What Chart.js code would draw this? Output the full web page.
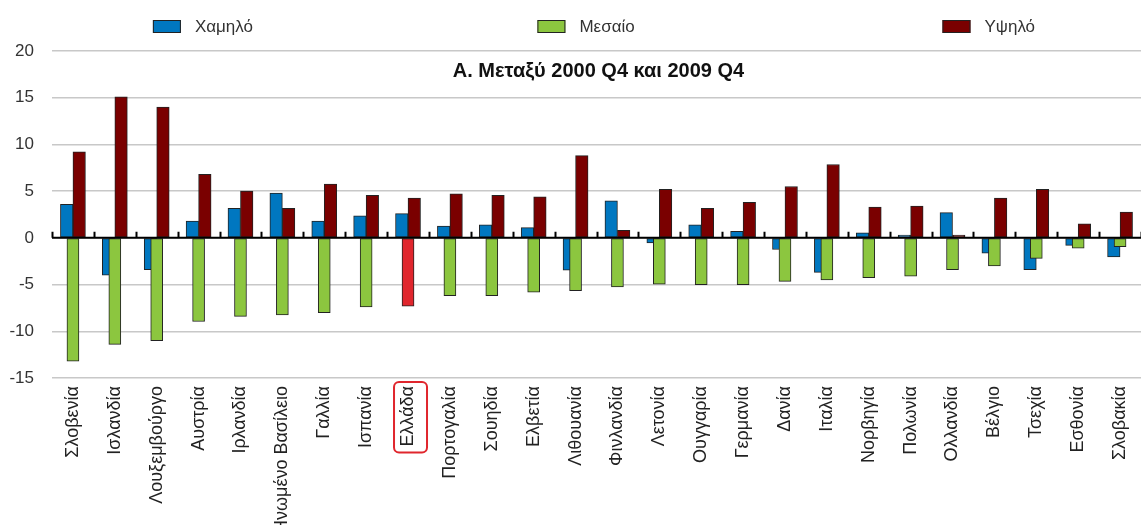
<!DOCTYPE html>
<html>
<head>
<meta charset="utf-8">
<script src="https://cdn.jsdelivr.net/npm/chart.js@4.4.1/dist/chart.umd.min.js"></script>
<style>
  html, body { margin: 0; padding: 0; background: #fff; }
</style>
</head>
<body>
<canvas id="chart" width="1141" height="525"></canvas>
<script>
const countries = ['Σλοβενία', 'Ισλανδία', 'Λουξεμβούργο', 'Αυστρία', 'Ιρλανδία', 'Ηνωμένο Βασίλειο',
  'Γαλλία', 'Ισπανία', 'Ελλάδα', 'Πορτογαλία', 'Σουηδία', 'Ελβετία', 'Λιθουανία', 'Φινλανδία',
  'Λετονία', 'Ουγγαρία', 'Γερμανία', 'Δανία', 'Ιταλία', 'Νορβηγία', 'Πολωνία', 'Ολλανδία',
  'Βέλγιο', 'Τσεχία', 'Εσθονία', 'Σλοβακία'];
const lowValues = [3.6, -4.0, -3.4, 1.8, 3.15, 4.8, 1.8, 2.35, 2.6, 1.25, 1.4, 1.1, -3.45, 3.95,
  -0.55, 1.4, 0.7, -1.25, -3.7, 0.55, 0.3, 2.7, -1.65, -3.4, -0.8, -2.05];
const midValues = [-13.2, -11.4, -11.0, -8.95, -8.4, -8.25, -8.0, -7.4, -7.3, -6.2, -6.2, -5.8, -5.65, -5.25,
  -4.95, -5.0, -5.0, -4.65, -4.5, -4.25, -4.1, -3.4, -3.0, -2.2, -1.1, -0.95];
const highValues = [9.2, 15.1, 14.0, 6.8, 5.0, 3.15, 5.75, 4.55, 4.25, 4.7, 4.55, 4.4, 8.8, 0.8,
  5.2, 3.15, 3.8, 5.5, 7.85, 3.3, 3.4, 0.3, 4.25, 5.2, 1.5, 2.75];
const yTicks = [-15, -10, -5, 0, 5, 10, 15, 20];
const seriesNames = ['Χαμηλό', 'Μεσαίο', 'Υψηλό'];
const chartTitle = 'Α. Μεταξύ 2000 Q4 και 2009 Q4';
const highlighted = 'Ελλάδα';

const FONT = "'Liberation Sans', Arial, sans-serif";
const BLUE = '#0077c0', GREEN = '#8cc63f', DARKRED = '#7a0000', RED = '#e0262d';

// legend drawn by hand, items spread wide like the original
const topLegend = {
  id: 'topLegend',
  afterDraw(chart) {
    const ctx = chart.ctx;
    const spots = [0.134, 0.471, 0.826];
    ctx.save();
    ctx.font = '17px ' + FONT;
    ctx.textBaseline = 'middle';
    chart.data.datasets.forEach((ds, i) => {
      const x = chart.width * spots[i];
      ctx.fillStyle = ds.legendColor;
      ctx.strokeStyle = '#222';
      ctx.lineWidth = 1;
      ctx.fillRect(x, 20, 28, 13);
      ctx.strokeRect(x + 0.5, 20.5, 27, 12);
      ctx.fillStyle = '#333';
      ctx.fillText(ds.label, x + 42, 27);
    });
    ctx.restore();
  }
};

const innerTitle = {
  id: 'innerTitle',
  afterDraw(chart) {
    const {ctx, chartArea} = chart;
    ctx.save();
    ctx.font = "bold 20px 'Liberation Sans Narrow', 'Liberation Sans', Arial, sans-serif";
    ctx.fillStyle = '#111';
    ctx.textAlign = 'center';
    ctx.textBaseline = 'middle';
    ctx.fillText(chartTitle, (chartArea.left + chartArea.right) / 2 + 2, chartArea.top + 20);
    ctx.restore();
  }
};

// black zero line with small ticks between categories
const zeroAxis = {
  id: 'zeroAxis',
  afterDatasetsDraw(chart) {
    const {ctx, chartArea, scales} = chart;
    const y0 = scales.y.getPixelForValue(0);
    const step = (chartArea.right - chartArea.left) / countries.length;
    ctx.save();
    ctx.strokeStyle = '#000';
    ctx.lineWidth = 2;
    ctx.beginPath();
    ctx.moveTo(chartArea.left, y0);
    ctx.lineTo(chartArea.right, y0);
    for (let i = 0; i <= countries.length; i++) {
      const x = Math.round(chartArea.left + i * step) + 0.5;
      ctx.moveTo(x, y0);
      ctx.lineTo(x, y0 - 6);
    }
    ctx.stroke();
    ctx.restore();
  }
};

const highlightBox = {
  id: 'highlightBox',
  afterDraw(chart) {
    const {ctx, chartArea, scales} = chart;
    const idx = countries.indexOf(highlighted);
    const x = scales.x.getPixelForValue(idx);
    ctx.save();
    ctx.font = '18px ' + FONT;
    const w = ctx.measureText(highlighted).width;
    ctx.strokeStyle = RED;
    ctx.lineWidth = 2;
    ctx.beginPath();
    ctx.roundRect(x - 14, chartArea.bottom + 4, 33, w + 10, 5);
    ctx.stroke();
    ctx.restore();
  }
};

new Chart(document.getElementById('chart'), {
  type: 'bar',
  data: {
    labels: countries,
    datasets: [
      {
        label: seriesNames[0], data: lowValues, order: 2,
        backgroundColor: BLUE, legendColor: BLUE, barThickness: 12.5
      },
      {
        label: seriesNames[1], data: midValues, order: 1, grouped: false,
        backgroundColor: countries.map(c => c === highlighted ? RED : GREEN),
        legendColor: GREEN, barThickness: 12
      },
      {
        label: seriesNames[2], data: highValues, order: 3,
        backgroundColor: DARKRED, legendColor: DARKRED, barThickness: 12.5
      }
    ]
  },
  options: {
    responsive: false,
    animation: false,
    devicePixelRatio: 1,
    layout: { padding: { top: 51, right: 0, left: 0, bottom: 0 } },
    datasets: {
      bar: { borderColor: '#222', borderWidth: 1, borderSkipped: false }
    },
    plugins: {
      legend: { display: false },
      title: { display: false },
      tooltip: { enabled: false }
    },
    scales: {
      x: {
        offset: true,
        grid: { display: false },
        border: { display: false },
        ticks: {
          autoSkip: false,
          minRotation: 90,
          maxRotation: 90,
          padding: 0,
          color: '#222',
          font: { family: FONT, size: 18 }
        },
        afterFit: s => { s.height = 147; s.paddingRight = 0; s.paddingLeft = 0; }
      },
      y: {
        min: -15,
        max: 20,
        afterBuildTicks: s => { s.ticks = yTicks.map(v => ({ value: v })); },
        grid: { color: '#c8c8c8', lineWidth: 1.5, drawTicks: false },
        border: { display: false },
        ticks: {
          padding: 18,
          color: '#333',
          font: { family: FONT, size: 17 }
        },
        afterFit: s => { s.width = 52; }
      }
    }
  },
  plugins: [zeroAxis, innerTitle, topLegend, highlightBox]
});
</script>
</body>
</html>
